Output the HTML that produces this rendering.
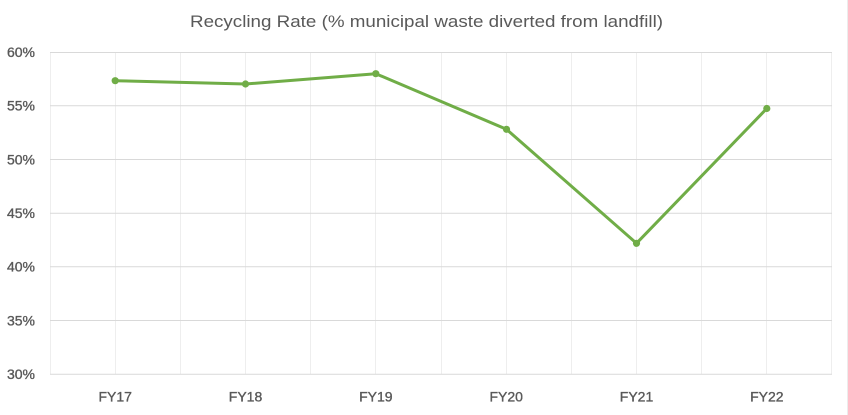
<!DOCTYPE html>
<html>
<head>
<meta charset="utf-8">
<style>
html,body{margin:0;padding:0;background:#fff;}
svg{display:block;}
text{font-family:"Liberation Sans",sans-serif;fill:#595959;}
.lbl text{stroke:#595959;stroke-width:0.35;}
</style>
</head>
<body>
<svg width="848" height="415" viewBox="0 0 848 415" xmlns="http://www.w3.org/2000/svg">
<rect x="0" y="0" width="848" height="415" fill="#fff"/>
<line x1="847.5" y1="0" x2="847.5" y2="415" stroke="#ececec" stroke-width="1"/>
<text x="426.5" y="27" font-size="17" text-anchor="middle" textLength="473" lengthAdjust="spacingAndGlyphs">Recycling Rate (% municipal waste diverted from landfill)</text>
<!-- vertical gridlines -->
<g stroke="#eeeeee" stroke-width="1">
<line x1="115.5" y1="52" x2="115.5" y2="374"/>
<line x1="180.5" y1="52" x2="180.5" y2="374"/>
<line x1="245.5" y1="52" x2="245.5" y2="374"/>
<line x1="310.5" y1="52" x2="310.5" y2="374"/>
<line x1="375.5" y1="52" x2="375.5" y2="374"/>
<line x1="441.5" y1="52" x2="441.5" y2="374"/>
<line x1="506.5" y1="52" x2="506.5" y2="374"/>
<line x1="571.5" y1="52" x2="571.5" y2="374"/>
<line x1="636.5" y1="52" x2="636.5" y2="374"/>
<line x1="701.5" y1="52" x2="701.5" y2="374"/>
<line x1="766.5" y1="52" x2="766.5" y2="374"/>
<line x1="831.5" y1="52" x2="831.5" y2="374"/>
<line x1="50.5" y1="52" x2="50.5" y2="374"/>
</g>
<!-- horizontal gridlines -->
<g stroke="#d9d9d9" stroke-width="1">
<line x1="50" y1="52.5" x2="832" y2="52.5"/>
<line x1="50" y1="105.8" x2="832" y2="105.8"/>
<line x1="50" y1="159.5" x2="832" y2="159.5"/>
<line x1="50" y1="213.2" x2="832" y2="213.2"/>
<line x1="50" y1="266.8" x2="832" y2="266.8"/>
<line x1="50" y1="320.5" x2="832" y2="320.5"/>
<line x1="50" y1="374.2" x2="832" y2="374.2"/>
</g>
<!-- y labels -->
<g class="lbl" font-size="14" text-anchor="end">
<text x="35" y="57">60%</text>
<text x="35" y="110.5">55%</text>
<text x="35" y="164.3">50%</text>
<text x="35" y="218">45%</text>
<text x="35" y="271.6">40%</text>
<text x="35" y="325.3">35%</text>
<text x="35" y="379">30%</text>
</g>
<!-- x labels -->
<g class="lbl" font-size="14" text-anchor="middle">
<text x="115.2" y="401.5">FY17</text>
<text x="245.5" y="401.5">FY18</text>
<text x="375.8" y="401.5">FY19</text>
<text x="506.2" y="401.5">FY20</text>
<text x="636.5" y="401.5">FY21</text>
<text x="766.8" y="401.5">FY22</text>
</g>
<!-- series -->
<polyline points="115.2,80.7 245.5,84 375.8,73.7 506.5,129.3 636.5,243.3 766.8,108.5" fill="none" stroke="#70ad47" stroke-width="3" stroke-linejoin="round" stroke-linecap="round"/>
<g fill="#70ad47">
<circle cx="115.2" cy="80.7" r="3.6"/>
<circle cx="245.5" cy="84" r="3.6"/>
<circle cx="375.8" cy="73.7" r="3.6"/>
<circle cx="506.5" cy="129.3" r="3.6"/>
<circle cx="636.5" cy="243.3" r="3.6"/>
<circle cx="766.8" cy="108.5" r="3.6"/>
</g>
</svg>
</body>
</html>
